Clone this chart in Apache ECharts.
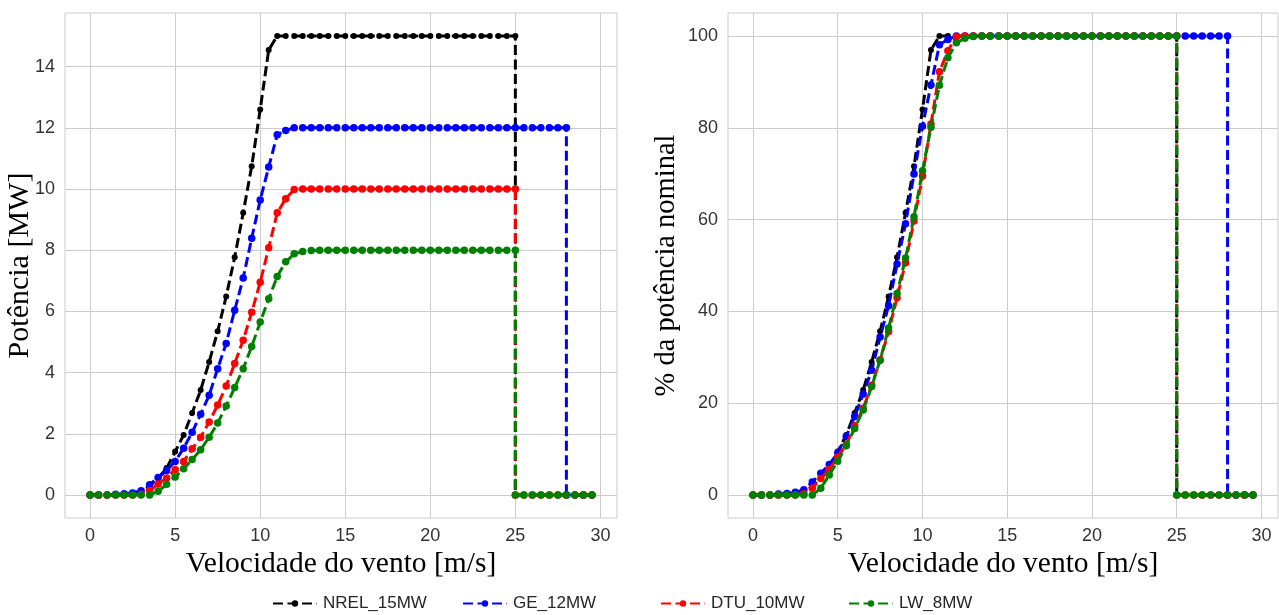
<!DOCTYPE html>
<html>
<head>
<meta charset="utf-8">
<script src="https://cdn.jsdelivr.net/npm/echarts@6/dist/echarts.min.js"></script>
<style>
  html, body { margin: 0; padding: 0; background: #ffffff; }
  #chart { width: 1279px; height: 615px; }
</style>
</head>
<body>
<div id="chart"></div>
<script>
// Wind speed samples [m/s]
const windSpeed = [
  0, 0.5, 1, 1.5, 2, 2.5, 3, 3.5, 4, 4.5, 5, 5.5, 6, 6.5, 7, 7.5, 8, 8.5, 9, 9.5,
  10, 10.5, 11, 11.5, 12, 12.5, 13, 13.5, 14, 14.5, 15, 15.5, 16, 16.5, 17, 17.5,
  18, 18.5, 19, 19.5, 20, 20.5, 21, 21.5, 22, 22.5, 23, 23.5, 24, 24.5, 25, 25.5,
  26, 26.5, 27, 27.5, 28, 28.5, 29, 29.5
];

// Turbine names, rated power [MW] and cut-out speed [m/s]
const turbineNames = ['NREL_15MW', 'GE_12MW', 'DTU_10MW', 'LW_8MW'];
const ratedPower = [15, 12, 10, 8];
const cutOutSpeed = [25, 28, 25, 25];
const lineColors = ['#000000', '#0000ff', '#ff0000', '#008000'];

// Electrical power [MW] at each wind speed
const powerNREL15 = [
  0, 0, 0, 0, 0, 0, 0.07, 0.3, 0.55, 0.88, 1.42, 1.96, 2.68, 3.43, 4.35, 5.35, 6.49, 7.77, 9.22, 10.74,
  12.6, 14.54, 15, 15, 15, 15, 15, 15, 15, 15, 15, 15, 15, 15, 15, 15,
  15, 15, 15, 15, 15, 15, 15, 15, 15, 15, 15, 15, 15, 15, 15, 0,
  0, 0, 0, 0, 0, 0, 0, 0
];
const powerGE12 = [
  0, 0, 0, 0.03, 0.04, 0.07, 0.14, 0.34, 0.57, 0.8, 1.1, 1.53, 2.05, 2.64, 3.26, 4.13, 4.95, 6.04, 7.09, 8.39,
  9.64, 10.72, 11.77, 11.91, 12, 12, 12, 12, 12, 12, 12, 12, 12, 12, 12, 12,
  12, 12, 12, 12, 12, 12, 12, 12, 12, 12, 12, 12, 12, 12, 12, 12,
  12, 12, 12, 12, 12, 0, 0, 0
];
const powerDTU10 = [
  0, 0, 0, 0, 0, 0, 0.03, 0.15, 0.36, 0.56, 0.83, 1.1, 1.51, 1.89, 2.39, 2.94, 3.56, 4.3, 5.06, 5.97,
  6.95, 8.08, 9.22, 9.68, 9.98, 10, 10, 10, 10, 10, 10, 10, 10, 10, 10, 10,
  10, 10, 10, 10, 10, 10, 10, 10, 10, 10, 10, 10, 10, 10, 10, 0,
  0, 0, 0, 0, 0, 0, 0, 0
];
const powerLW8 = [
  0, 0, 0, 0, 0, 0, 0, 0, 0.12, 0.35, 0.59, 0.86, 1.16, 1.48, 1.89, 2.35, 2.91, 3.51, 4.13, 4.85,
  5.65, 6.41, 7.14, 7.62, 7.88, 7.96, 7.99, 8, 8, 8, 8, 8, 8, 8, 8, 8,
  8, 8, 8, 8, 8, 8, 8, 8, 8, 8, 8, 8, 8, 8, 8, 0,
  0, 0, 0, 0, 0, 0, 0, 0
];
const powerCurves = [powerNREL15, powerGE12, powerDTU10, powerLW8];

// Axis tick values
const speedTicks = [0, 5, 10, 15, 20, 25, 30];
const powerTicks = [0, 2, 4, 6, 8, 10, 12, 14];
const percentTicks = [0, 20, 40, 60, 80, 100];

// Build [speed, value] pairs; the turbine stops at cut-out, so a zero point
// is added at that same speed to draw the vertical drop.
function curvePoints(powers, cutOut, scale) {
  const pts = [];
  windSpeed.forEach((v, i) => {
    pts.push([v, powers[i] * scale]);
    if (v === cutOut) pts.push([v, 0]);
  });
  return pts;
}

const chart = echarts.init(document.getElementById('chart'), null, { renderer: 'canvas' });

const gridLine = { show: true, lineStyle: { color: '#cccccc', width: 1 } };
const tickFont = { fontFamily: 'Liberation Sans, Arial, sans-serif', fontSize: 18, color: '#333333' };
const titleFont = { fontFamily: 'Liberation Serif, Times New Roman, serif', color: '#000000' };

function speedAxis(gridIndex) {
  return {
    type: 'value', gridIndex,
    min: -1.475, max: 30.975,
    axisLine: { show: false },
    axisTick: { show: false, customValues: speedTicks },
    axisLabel: Object.assign({ margin: 9, customValues: speedTicks }, tickFont),
    splitLine: gridLine,
    name: 'Velocidade do vento [m/s]',
    nameLocation: 'middle',
    nameGap: 31,
    nameMoveOverlap: false,
    nameTextStyle: Object.assign({ fontSize: 29.5 }, titleFont)
  };
}

const series = [];
turbineNames.forEach((name, k) => {
  [0, 1].forEach(panel => {
    const scale = panel === 0 ? 1 : 100 / ratedPower[k];
    series.push({
      name,
      type: 'line',
      xAxisIndex: panel,
      yAxisIndex: panel,
      data: curvePoints(powerCurves[k], cutOutSpeed[k], scale),
      symbol: 'circle',
      symbolSize: k === 0 ? 6 : 7.5,
      showSymbol: true,
      clip: false,
      color: lineColors[k],
      itemStyle: { color: lineColors[k] },
      lineStyle: { color: lineColors[k], width: 3, type: [10, 4.5] },
      emphasis: { disabled: true },
      animation: false,
      z: 2 + k
    });
  });
});

// One legend entry per turbine along the bottom edge
const legendLeft = [272, 462, 660, 848];
const legends = turbineNames.map((name, k) => ({
  data: [name],
  left: legendLeft[k],
  bottom: 3,
  padding: 0,
  itemWidth: 44,
  itemHeight: 8,
  textStyle: { fontFamily: 'Liberation Sans, Arial, sans-serif', fontSize: 17, color: '#262626', padding: [0, 0, 0, 1] }
}));

chart.setOption({
  backgroundColor: '#ffffff',
  animation: false,
  grid: [
    { left: 65, top: 13, width: 552, height: 505, show: true, borderColor: '#cccccc', borderWidth: 1, backgroundColor: 'transparent' },
    { left: 728, top: 13, width: 550, height: 505, show: true, borderColor: '#cccccc', borderWidth: 1, backgroundColor: 'transparent' }
  ],
  xAxis: [speedAxis(0), speedAxis(1)],
  yAxis: [
    {
      type: 'value', gridIndex: 0,
      min: -0.75, max: 15.75,
      axisLine: { show: false },
      axisTick: { show: false, customValues: powerTicks },
      axisLabel: Object.assign({ margin: 10, customValues: powerTicks }, tickFont),
      splitLine: gridLine,
      name: 'Potência [MW]',
      nameLocation: 'middle',
      nameGap: 30,
      nameMoveOverlap: false,
      nameTextStyle: Object.assign({ fontSize: 30 }, titleFont)
    },
    {
      type: 'value', gridIndex: 1,
      min: -5, max: 105,
      axisLine: { show: false },
      axisTick: { show: false, customValues: percentTicks },
      axisLabel: Object.assign({ margin: 10, customValues: percentTicks }, tickFont),
      splitLine: gridLine,
      name: '% da potência nominal',
      nameLocation: 'middle',
      nameGap: 47,
      nameMoveOverlap: false,
      nameTextStyle: Object.assign({ fontSize: 28.5 }, titleFont)
    }
  ],
  legend: legends,
  series
});
</script>
</body>
</html>
